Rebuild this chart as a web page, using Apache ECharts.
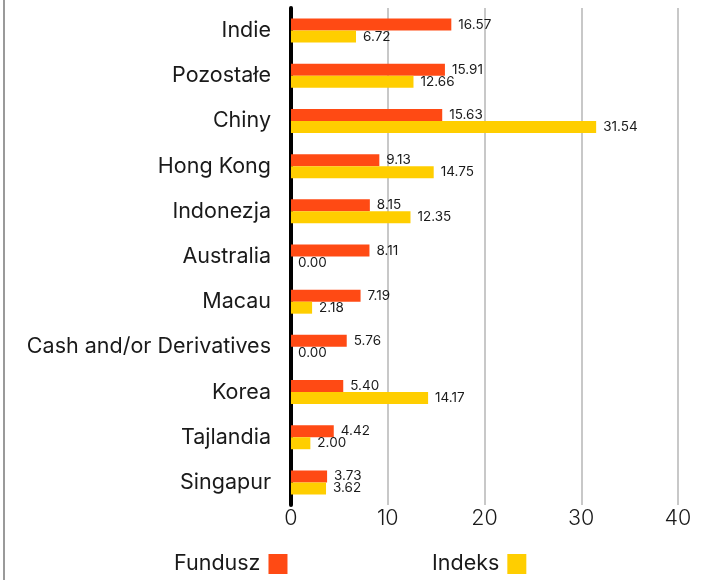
<!DOCTYPE html>
<html>
<head>
<meta charset="utf-8">
<script src="https://cdn.jsdelivr.net/npm/echarts@6/dist/echarts.min.js"></script>
<style>
html,body{margin:0;padding:0;background:#fff;}
#c{width:703px;height:580px;}
</style>
</head>
<body>
<div id="c"></div>
<script>
const categories = ["Indie","Pozostałe","Chiny","Hong Kong","Indonezja","Australia","Macau","Cash and/or Derivatives","Korea","Tajlandia","Singapur"];
const fundusz = [16.57,15.91,15.63,9.13,8.15,8.11,7.19,5.76,5.40,4.42,3.73];
const indeks = [6.72,12.66,31.54,14.75,12.35,0.00,2.18,0.00,14.17,2.00,3.62];
const xTicks = [0,10,20,30,40];

const FONT = "Inter, 'Noto Sans', sans-serif";
const chart = echarts.init(document.getElementById('c'));
const labelCfg = {
  show: true, position: 'right', distance: 7,
  fontFamily: FONT, fontSize: 13.5, color: '#1a1a1a',
  formatter: p => p.value.toFixed(2)
};
const legendText = {fontFamily: FONT, fontSize: 21.5, color: '#1a1a1a', padding:[2,3,0,0]};
chart.setOption({
  animation: false,
  grid: {left: 291, right: 25, top: 8, bottom: 75, containLabel: false},
  graphic: [{type:'rect', shape:{x:3,y:0,width:2,height:580}, style:{fill:'#9a9a9a'}}],
  xAxis: {
    type: 'value', min: xTicks[0], max: xTicks[xTicks.length-1], interval: 10,
    axisLine: {show: false}, axisTick: {show: false},
    splitLine: {show: true, lineStyle: {color: '#c8c8c8', width: 2}},
    axisLabel: {fontFamily: FONT, fontSize: 21.5, color: '#1a1a1a', margin: 3, fontWeight: 300}
  },
  yAxis: {
    type: 'category', data: categories, inverse: true,
    axisLine: {show: true, lineStyle: {color: '#000', width: 4}},
    axisTick: {show: false},
    axisLabel: {fontFamily: FONT, fontSize: 21.5, color: '#1a1a1a', margin: 20, padding: [3,0,0,0]}
  },
  legend: [
    {data: ['Fundusz'], left: 174, top: 553, padding: 0, align: 'right', icon: 'rect', itemWidth: 19, itemHeight: 20,
     textStyle: legendText},
    {data: ['Indeks'], left: 432, top: 553, padding: 0, align: 'right', icon: 'rect', itemWidth: 19, itemHeight: 20,
     textStyle: legendText}
  ],
  series: [
    {name: 'Fundusz', type: 'bar', data: fundusz, barWidth: 12, barGap: '0%',
     itemStyle: {color: '#FF4A14'}, label: labelCfg},
    {name: 'Indeks', type: 'bar', data: indeks, barWidth: 12, barGap: '0%',
     itemStyle: {color: '#FFCE00'}, label: labelCfg}
  ]
});
</script>
</body>
</html>
